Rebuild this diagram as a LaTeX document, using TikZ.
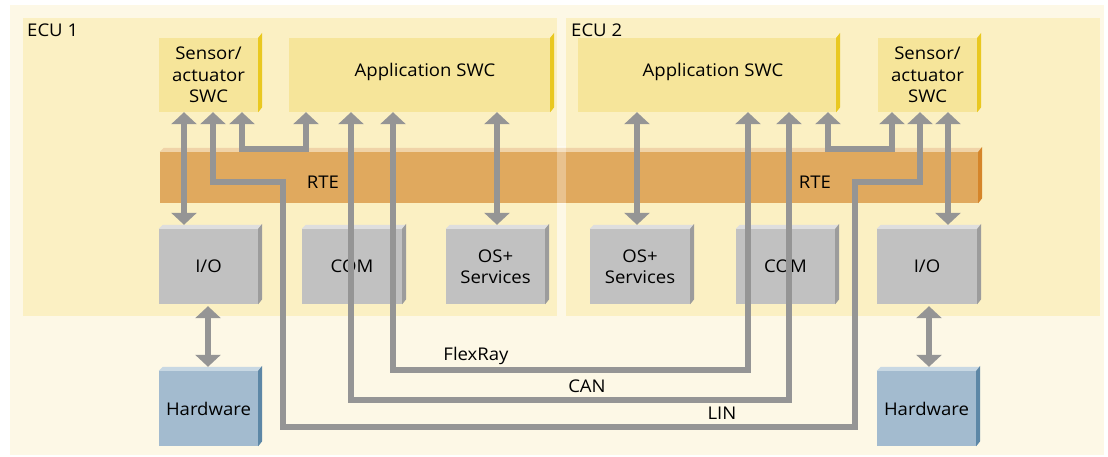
\documentclass[tikz,border=0pt]{standalone}
\usepackage{fontspec}
\setmainfont{Open Sans}[FakeStretch=1.06]
\usetikzlibrary{arrows.meta}
\definecolor{outerc}{HTML}{FDF8E6}
\definecolor{panelc}{HTML}{FBF0C3}
\definecolor{swcc}{HTML}{F6E59A}
\definecolor{swcside}{HTML}{E9C820}
\definecolor{rtec}{HTML}{E0A95E}
\definecolor{rtetop}{HTML}{F0D3A8}
\definecolor{rteside}{HTML}{D5852A}
\definecolor{grayc}{HTML}{C1C1C1}
\definecolor{graytop}{HTML}{DEDEDE}
\definecolor{grayside}{HTML}{9C9C9C}
\definecolor{arrc}{HTML}{959595}
\definecolor{hwc}{HTML}{A3BBCF}
\definecolor{hwtop}{HTML}{C8D8E3}
\definecolor{hwside}{HTML}{5D87A6}
\newcommand\mytop[2]{\fill[#2] (#1.north west) -- ([shift={(4,-4)}]#1.north west) -- ([shift={(4,-4)}]#1.north east) -- (#1.north east) -- cycle;}
\newcommand\myside[2]{\fill[#2] (#1.north east) -- ([shift={(4,-5)}]#1.north east) -- ([shift={(4,-5)}]#1.south east) -- (#1.south east) -- cycle;}
\tikzset{
  txt/.style={font=\fontsize{17.5}{21.5}\selectfont, text=black},
  box/.style={txt, inner sep=0pt, align=center},
  swcbox/.style={box, fill=swcc, minimum width=99pt, minimum height=74pt},
  appbox/.style={box, fill=swcc, minimum height=74pt},
  graybox/.style={box, fill=grayc, minimum width=100pt, minimum height=75pt},
  hwbox/.style={box, fill=hwc, minimum width=99pt, minimum height=75pt},
  bus/.style={draw=arrc, line width=6.5pt, line join=miter},
  dbl/.style={bus, {Triangle[width=25pt,length=12pt]}-{Triangle[width=25pt,length=12pt]}},
}
\begin{document}
\begin{tikzpicture}[x=1pt,y=-1pt]
\useasboundingbox (0,0) rectangle (1108,457);
\fill[outerc] (10,5) rectangle (1104,455);
\fill[panelc] (23,18) rectangle (557,316);
\fill[panelc] (566,18) rectangle (1100,316);
\node[txt, anchor=west, inner sep=0pt] (e1) at (27,30) {ECU 1};
\node[txt, anchor=west, inner sep=0pt] (e2) at (571,30) {ECU 2};
% SWCs
\node[swcbox] (s1) at (208.5,75) {Sensor/\\actuator\\SWC};
\node[appbox, minimum width=261pt] (a1) at (419.5,75) {};
\node[txt] at (425,72) {Application SWC};
\node[appbox, minimum width=258pt] (a2) at (707,75) {};
\node[txt] at (713,72) {Application SWC};
\node[swcbox] (s2) at (927.5,75) {Sensor/\\actuator\\SWC};
\myside{s1}{swcside}\myside{a1}{swcside}\myside{a2}{swcside}\myside{s2}{swcside}
% RTE
\node[box, fill=rtec, minimum width=818pt, minimum height=51pt] (rte) at (569,177.5) {};
\mytop{rte}{rtetop}\myside{rte}{rteside}
\fill[white, opacity=0.3] (557,146) rectangle (566,204);
\node[txt] (r1) at (323,182) {RTE};
\node[txt] (r2) at (815,182) {RTE};
% BSW
\node[graybox, minimum width=99pt] (io1) at (208.5,266.5) {I/O};
\node[graybox] (com1) at (352,266.5) {COM};
\node[graybox, minimum width=99pt] (os1) at (495.5,266.5) {OS+\\Services};
\node[graybox] (os2) at (640,266.5) {OS+\\Services};
\node[graybox, minimum width=99pt] (com2) at (785.5,266.5) {COM};
\node[graybox] (io2) at (927,266.5) {I/O};
\foreach \n in {io1,com1,os1,os2,com2,io2}{\mytop{\n}{graytop}\myside{\n}{grayside}}
% Hardware
\node[hwbox] (hw1) at (208.5,408.5) {Hardware};
\node[hwbox] (hw2) at (926.5,408.5) {Hardware};
\mytop{hw1}{hwtop}\myside{hw1}{hwside}
\mytop{hw2}{hwtop}\myside{hw2}{hwside}
% connectors
\draw[dbl] (184,0 |- s1.south) -- ([yshift=4pt]184,0 |- io1.north);
\draw[dbl] (497,0 |- a1.south) -- ([yshift=4pt]497,0 |- os1.north);
\draw[dbl] (637,0 |- a2.south) -- ([yshift=4pt]637,0 |- os2.north);
\draw[dbl] (948,0 |- s2.south) -- ([yshift=4pt]948,0 |- io2.north);
\draw[dbl] ([yshift=-2pt]208,0 |- io1.south) -- ([yshift=4pt]208,0 |- hw1.north);
\draw[dbl] ([yshift=-2pt]929,0 |- io2.south) -- ([yshift=4pt]929,0 |- hw2.north);
\draw[dbl] (242,0 |- s1.south) -- (242,149) -- (306,149) -- (306,0 |- a1.south);
\draw[dbl] (828,0 |- a2.south) -- (828,149) -- (892,149) -- (892,0 |- s2.south);
\draw[dbl] (213,0 |- s1.south) -- (213,182) -- (283,182) -- (283,427) -- (855,427) -- (855,182) -- (920,182) -- (920,0 |- s2.south);
\draw[dbl] (351,0 |- a1.south) -- (351,400) -- (789,400) -- (789,0 |- a2.south);
\draw[dbl] (393,0 |- a1.south) -- (393,370) -- (748,370) -- (748,0 |- a2.south);
\node[txt] (lf) at (476,356) {FlexRay};
\node[txt] (lc) at (587,386) {CAN};
\node[txt] (ll) at (722,413) {LIN};
\end{tikzpicture}
\end{document}
